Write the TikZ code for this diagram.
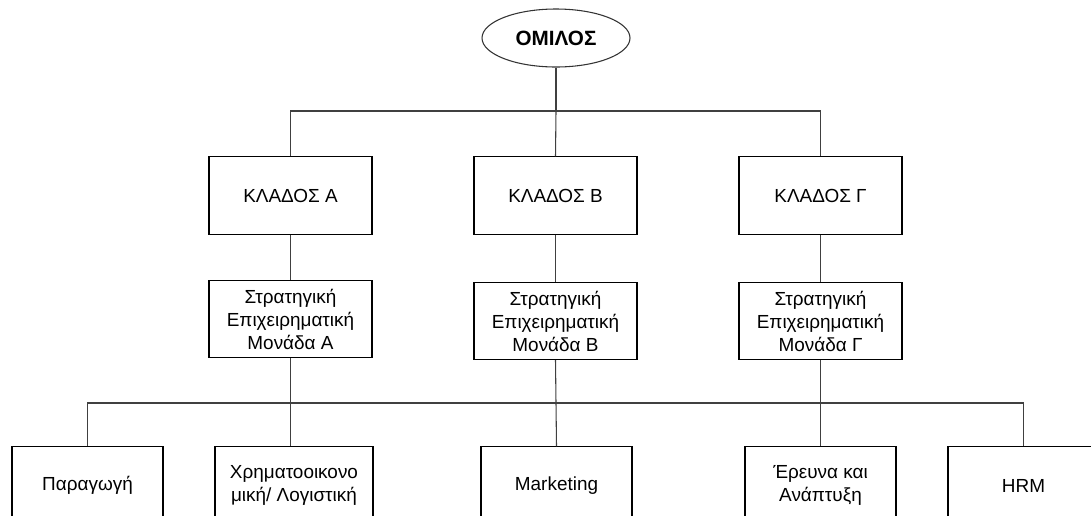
\documentclass[tikz,border=0pt]{standalone}
\usepackage{fontspec}
\setmainfont{Liberation Sans}
\usetikzlibrary{shapes.geometric}
\begin{document}
\begin{tikzpicture}[x=0.75pt,y=-0.75pt,
  every node/.style={font=\fontsize{14.2}{17.25}\selectfont, align=center, inner sep=0pt},
  box/.style={draw=black, line width=0.8pt, rectangle, minimum height=58pt},
  bigbox/.style={box, minimum width=122.25pt},
  smallbox/.style={box, minimum width=113.25pt},
  conn/.style={draw=black!75, line width=0.8pt}]
\useasboundingbox (0,0) rectangle (1091,515);
\node[draw=black!80, line width=0.8pt, ellipse, minimum width=111pt, minimum height=43.5pt,
      font=\fontsize{15.5}{18}\selectfont\bfseries] (om) at (556,38) {ΟΜΙΛΟΣ};
\node[bigbox] (kA) at (290.5,195.5) {ΚΛΑΔΟΣ Α};
\node[bigbox] (kB) at (555.5,195.5) {ΚΛΑΔΟΣ Β};
\node[bigbox] (kC) at (820.5,195.5) {ΚΛΑΔΟΣ Γ};
\node[bigbox] (sA) at (290.5,319) {Στρατηγική\\Επιχειρηματική\\Μονάδα Α};
\node[bigbox] (sB) at (555.5,321) {Στρατηγική\\Επιχειρηματική\\Μονάδα Β};
\node[bigbox] (sC) at (820.5,321) {Στρατηγική\\Επιχειρηματική\\Μονάδα Γ};
\node[smallbox] (f1) at (87.5,485.5) {Παραγωγή};
\node[box, minimum width=118.5pt] (f2) at (294,485.5) {Χρηματοοικονο\\μική/ Λογιστική};
\node[smallbox] (f3) at (556.5,485.5) {Marketing};
\node[smallbox] (f4) at (820.5,485.5) {Έρευνα και\\Ανάπτυξη};
\node[smallbox] (f5) at (1023.5,485.5) {HRM};
\coordinate (t) at (556,111);
\coordinate (b) at (556,403);
\draw[conn] (om.south) -- (t);
\draw[conn] (kA.north) |- (t) -| (kC.north);
\draw[conn] (t) -- (kB.north);
\draw[conn] (kA.south) -- (sA.north);
\draw[conn] (kB.south) -- (sB.north);
\draw[conn] (kC.south) -- (sC.north);
\draw[conn] (f1.north) |- (b) -| (f5.north);
\draw[conn] (sA.south) -- (sA.south |- f2.north);
\draw[conn] (sB.south) -- (f3.north);
\draw[conn] (sC.south) -- (f4.north);
\end{tikzpicture}
\end{document}
